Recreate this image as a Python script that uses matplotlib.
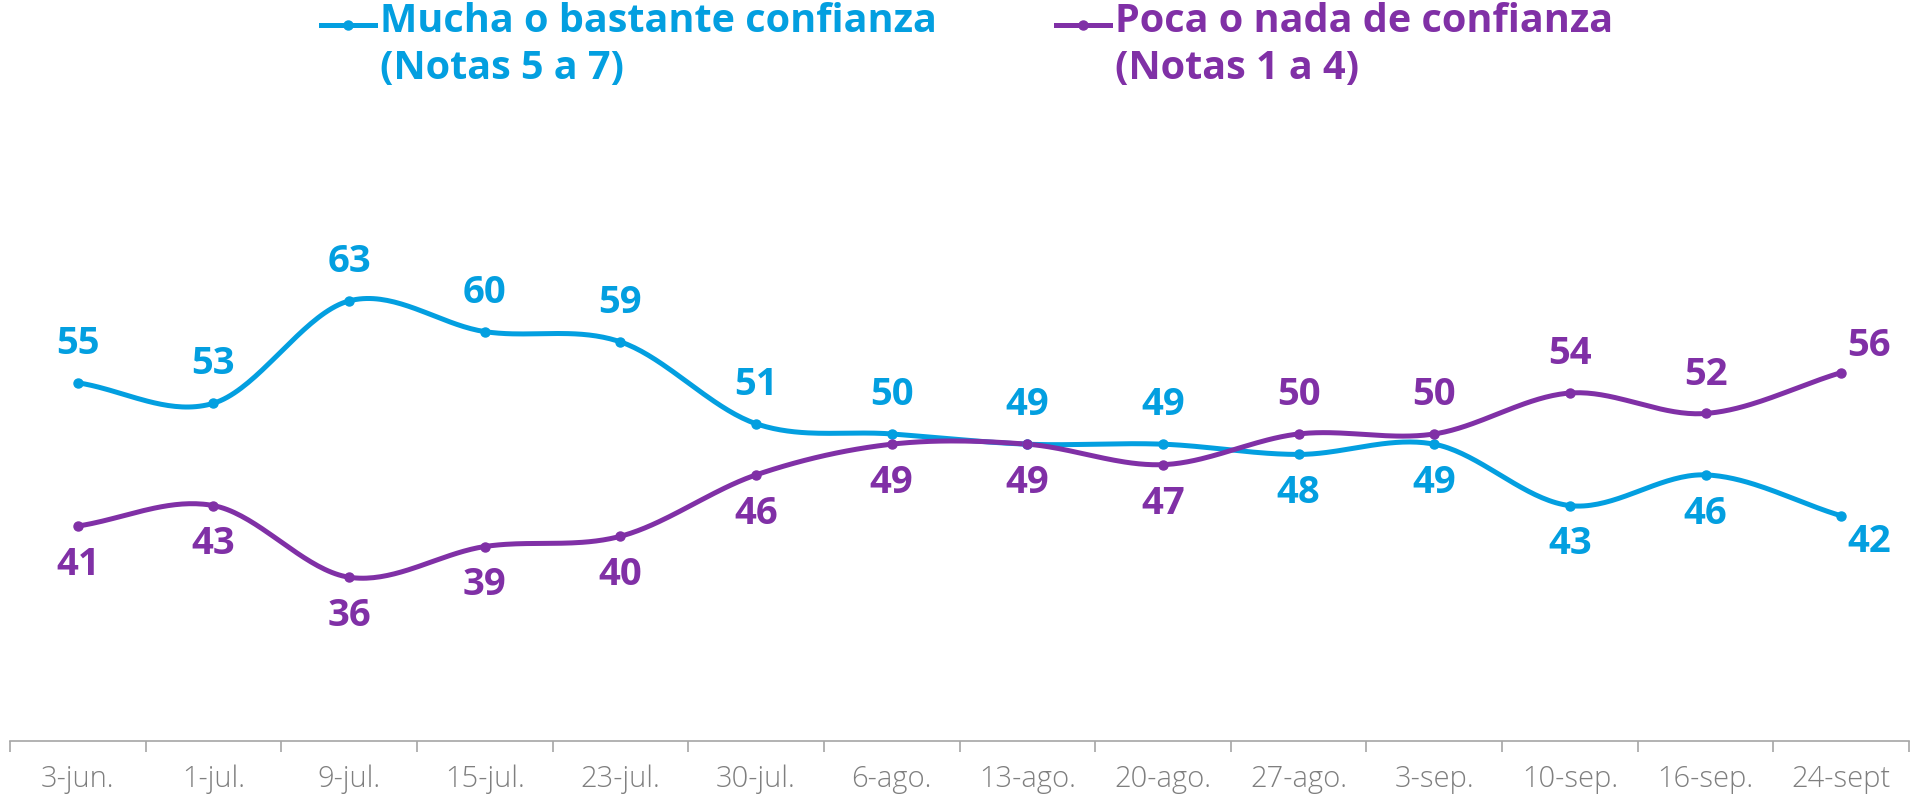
import numpy as np
import matplotlib
matplotlib.use("Agg")
import matplotlib.pyplot as plt
from matplotlib.lines import Line2D

# data
fechas = ['3-jun.', '1-jul.', '9-jul.', '15-jul.', '23-jul.', '30-jul.', '6-ago.',
          '13-ago.', '20-ago.', '27-ago.', '3-sep.', '10-sep.', '16-sep.', '24-sept']
mucha = [55, 53, 63, 60, 59, 51, 50, 49, 49, 48, 49, 43, 46, 42]
poca = [41, 43, 36, 39, 40, 46, 49, 49, 47, 50, 50, 54, 52, 56]

# label above (+1) or below (-1) the point
pos_mucha = [1, 1, 1, 1, 1, 1, 1, 1, 1, -1, -1, -1, -1, -1]
pos_poca = [-1, -1, -1, -1, -1, -1, -1, -1, -1, 1, 1, 1, 1, 1]

nombre_mucha = 'Mucha o bastante confianza\n(Notas 5 a 7)'
nombre_poca = 'Poca o nada de confianza\n(Notas 1 a 4)'

AZUL = '#039FE0'
MORADO = '#8030A6'
FONT = 'Open Sans'


#smooth curve through the points (catmull-rom, like excel's smoothed line)
def suavizar(y, n=40):
    y = np.asarray(y, dtype=float)
    x = np.arange(len(y), dtype=float)
    xp = np.concatenate([[2*x[0]-x[1]], x, [2*x[-1]-x[-2]]])
    yp = np.concatenate([[2*y[0]-y[1]], y, [2*y[-1]-y[-2]]])
    xs, ys = [], []
    t = np.linspace(0, 1, n)
    for i in range(1, len(xp)-2):
        for arr, out in ((xp, xs), (yp, ys)):
            p0, p1, p2, p3 = arr[i-1], arr[i], arr[i+1], arr[i+2]
            out.append(0.5*((2*p1) + (-p0+p2)*t + (2*p0-5*p1+4*p2-p3)*t**2
                            + (-p0+3*p1-3*p2+p3)*t**3))
    return np.concatenate(xs), np.concatenate(ys)


fig = plt.figure(figsize=(19.21, 7.94), dpi=100)
ax = fig.add_axes([10/1921, 53/794, 1899/1921, 741/794])

x = np.arange(len(fechas))

for serie, pos, col in ((mucha, pos_mucha, AZUL), (poca, pos_poca, MORADO)):
    xs, ys = suavizar(serie)
    ax.plot(xs, ys, color=col, lw=3.6, solid_capstyle='round', zorder=3)
    ax.plot(x, serie, 'o', color=col, ms=6.5, zorder=4)
    for i, (v, p) in enumerate(zip(serie, pos)):
        dx, dy = 0, 28*p
        if i == len(serie)-1:
            dx, dy = 20, 19*p
        ax.annotate(str(v), (x[i], v), xytext=(dx, dy), textcoords='offset points',
                    ha='center', va='center', color=col, fontsize=27.5,
                    fontweight='bold', family=FONT)

ax.set_xlim(-0.5, len(fechas)-0.5)
ax.set_ylim(20, 92.4)

for s in ['top', 'right', 'left']:
    ax.spines[s].set_visible(False)
ax.spines['bottom'].set_color('#A6A6A6')
ax.spines['bottom'].set_linewidth(1.2)
ax.set_yticks([])

ax.set_xticks(np.arange(len(fechas)+1)-0.5)
ax.set_xticklabels([])
ax.tick_params(axis='x', length=8, width=1.2, color='#A6A6A6')
ax.set_xticks(x, minor=True)
ax.set_xticklabels(fechas, minor=True, fontsize=21, color='#7F7F7F', family=FONT,
                   fontweight='light')
ax.tick_params(axis='x', which='minor', length=0, pad=17)

# legend drawn by hand at the top
for px, col, txt in ((321, AZUL, nombre_mucha), (1056, MORADO, nombre_poca)):
    x0 = px/1921
    x1 = (px+54)/1921
    yy = 1 - 25/794
    fig.add_artist(Line2D([x0, x1], [yy, yy], color=col, lw=3.6,
                          transform=fig.transFigure))
    fig.add_artist(Line2D([(x0+x1)/2], [yy], marker='o', ms=6.5, color=col,
                          transform=fig.transFigure))
    fig.text(x1 + 5/1921, 1 - 2/794, txt, color=col, fontsize=28.5,
             fontweight='bold', family=FONT, va='top', ha='left', linespacing=1.27)

fig.savefig('out.png', dpi=100)
